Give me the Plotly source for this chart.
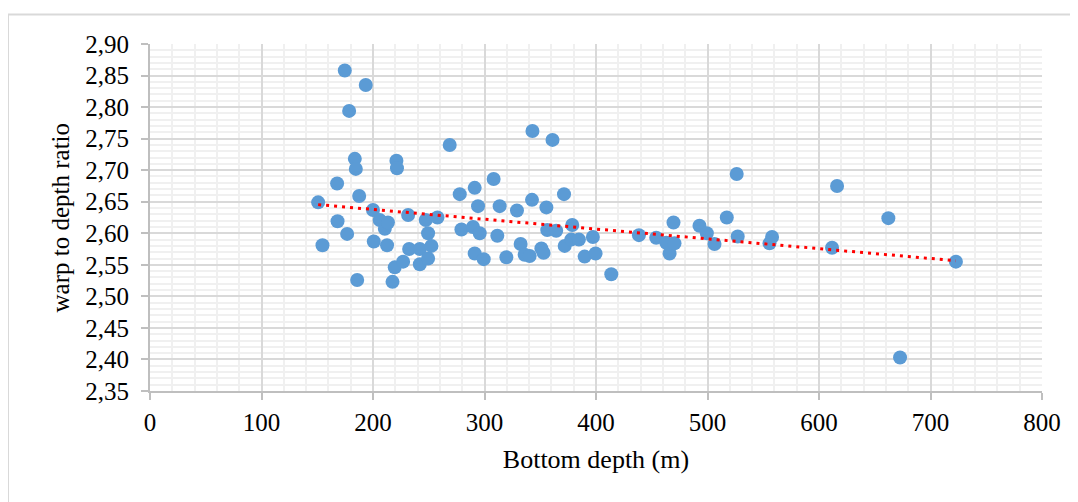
import numpy as np
import plotly.graph_objects as go

# Bottom depth (m)
depth = [150.8, 154.7, 167.8, 168.2, 174.7, 176.8, 178.6, 183.7, 184.6, 185.8,
         187.6, 193.5, 200.0, 200.7, 206.0, 210.6, 212.6, 213.4, 217.5, 219.5,
         221.0, 221.5, 227.0, 231.5, 232.4, 242.0, 242.0, 247.3, 249.4, 249.4,
         252.4, 257.8, 268.8, 277.8, 279.3, 289.7, 291.2, 291.2, 294.2, 295.7,
         299.3, 308.2, 311.5, 313.6, 319.6, 329.1, 332.4, 336.0, 340.5, 342.6,
         343.0, 351.0, 353.0, 355.5, 356.3, 361.0, 364.3, 371.3, 371.9, 377.8,
         378.7, 384.7, 389.8, 397.2, 399.6, 413.7, 438.5, 454.0, 463.0, 466.0,
         469.5, 470.4, 492.8, 499.4, 506.3, 517.3, 526.2, 527.1, 555.6, 557.9,
         611.7, 616.2, 662.2, 672.7, 722.8]
# warp to depth ratio
ratio = [2.649, 2.581, 2.679, 2.619, 2.858, 2.599, 2.794, 2.718, 2.702, 2.526,
         2.659, 2.835, 2.637, 2.587, 2.621, 2.607, 2.581, 2.617, 2.523, 2.546,
         2.715, 2.703, 2.555, 2.629, 2.575, 2.575, 2.551, 2.621, 2.600, 2.560,
         2.580, 2.625, 2.740, 2.662, 2.606, 2.610, 2.672, 2.568, 2.643, 2.600,
         2.559, 2.686, 2.596, 2.643, 2.562, 2.636, 2.583, 2.566, 2.564, 2.653,
         2.762, 2.576, 2.569, 2.641, 2.605, 2.748, 2.604, 2.662, 2.580, 2.590,
         2.613, 2.590, 2.563, 2.594, 2.568, 2.535, 2.597, 2.593, 2.585, 2.568,
         2.617, 2.584, 2.612, 2.600, 2.583, 2.625, 2.694, 2.595, 2.584, 2.594,
         2.577, 2.675, 2.624, 2.403, 2.555]

x_ticks = [0, 100, 200, 300, 400, 500, 600, 700, 800]
y_ticks = [2.35, 2.40, 2.45, 2.50, 2.55, 2.60, 2.65, 2.70, 2.75, 2.80, 2.85, 2.90]

# linear trendline (least squares)
slope, intercept = np.polyfit(depth, ratio, 1)
tx = [min(depth), max(depth)]
ty = [slope * v + intercept for v in tx]

FONT = "Liberation Serif, Times New Roman, serif"

fig = go.Figure()
fig.add_trace(go.Scatter(x=depth, y=ratio, mode="markers",
                         marker=dict(size=14, color="#5B9BD5", line=dict(width=0)),
                         showlegend=False, hoverinfo="x+y"))
fig.add_trace(go.Scatter(x=tx, y=ty, mode="lines",
                         line=dict(color="#FF0000", width=3, dash="3px,5px"),
                         showlegend=False, hoverinfo="skip"))

# page body has an 8px default margin: compensate so the plot lands where it should
fig.update_layout(
    width=1078, height=502,
    margin=dict(l=142, r=44, t=36, b=119),
    paper_bgcolor="white", plot_bgcolor="white",
    separators=", ",
    font=dict(family=FONT, color="#000000"),
    shapes=[dict(type="rect", xref="paper", yref="paper",
                 x0=(8 - 150) / 892, x1=(1090 - 150) / 892,
                 y0=(391 - 520) / 347, y1=(391 - 14.5) / 347,
                 line=dict(color="#d9d9d9", width=2), fillcolor="rgba(0,0,0,0)",
                 layer="below")],
    annotations=[dict(text="warp to depth ratio", textangle=-90,
                      xref="paper", yref="paper", x=(60 - 150) / 892, y=0.5,
                      xanchor="center", yanchor="middle", showarrow=False,
                      font=dict(size=25, family=FONT, color="#000000"))],
)
fig.update_xaxes(
    range=[0, 800], tickvals=x_ticks, ticktext=[str(v) for v in x_ticks],
    showgrid=True, gridcolor="#d9d9d9", gridwidth=2,
    minor=dict(dtick=20, showgrid=True, gridcolor="#f0f0f0", gridwidth=2, ticks=""),
    showline=True, linecolor="#bfbfbf", linewidth=2,
    ticks="outside", ticklen=7, tickcolor="#bfbfbf", tickwidth=2,
    tickfont=dict(size=25, family=FONT, color="#000000"),
    ticklabelstandoff=1,
    zeroline=False,
    title=dict(text="Bottom depth (m)", font=dict(size=26, family=FONT, color="#000000"),
               standoff=15),
)
fig.update_yaxes(
    range=[2.35, 2.90], tickvals=y_ticks, tickformat=".2f",
    showgrid=True, gridcolor="#d9d9d9", gridwidth=2,
    minor=dict(dtick=0.01, showgrid=True, gridcolor="#f0f0f0", gridwidth=2, ticks=""),
    showline=True, linecolor="#bfbfbf", linewidth=2,
    ticks="outside", ticklen=7, tickcolor="#bfbfbf", tickwidth=2,
    tickfont=dict(size=25, family=FONT, color="#000000"),
    ticklabelstandoff=7,
    zeroline=False,
)

fig.write_html("out.html")
